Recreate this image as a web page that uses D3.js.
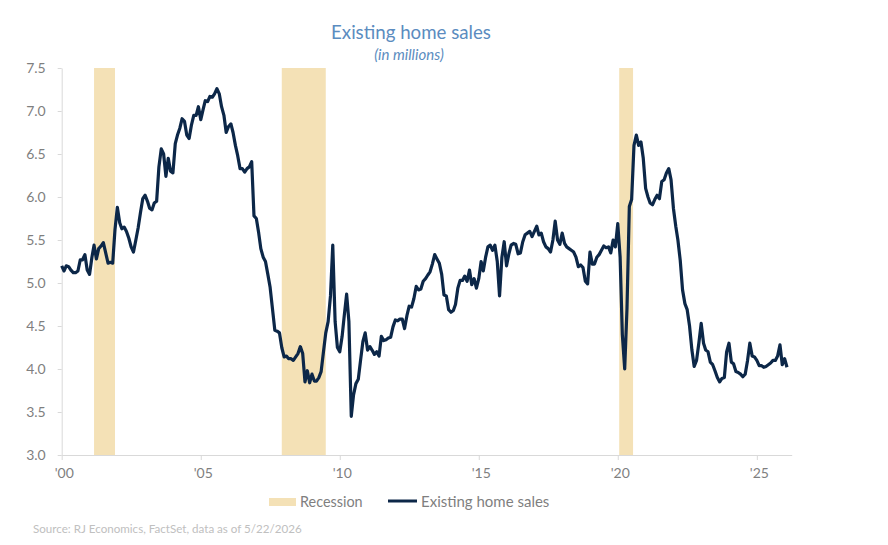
<!DOCTYPE html>
<html>
<head>
<meta charset="utf-8">
<script src="https://cdn.jsdelivr.net/npm/d3@7"></script>
<style>
	body { margin: 0; background: #fff; }
	text { font-family: Lato, "Open Sans", sans-serif; }
</style>
</head>
<body>
<div id="chart"></div>
<script>
// monthly existing home sales, SAAR, millions (Jan 2000 onwards)
var firstMonth = new Date(2000, 0, 1)
var sales = [
	5.2, 5.14, 5.2, 5.19, 5.15, 5.12, 5.12, 5.14, 5.27, 5.27, 5.33, 5.15,
	5.1, 5.3, 5.44, 5.28, 5.4, 5.43, 5.47, 5.35, 5.23, 5.24, 5.23, 5.62,
	5.88, 5.7, 5.63, 5.65, 5.6, 5.52, 5.42, 5.36, 5.5, 5.64, 5.82, 5.98,
	6.02, 5.95, 5.87, 5.85, 5.93, 5.95, 6.35, 6.56, 6.5, 6.24, 6.45, 6.3,
	6.28, 6.62, 6.72, 6.8, 6.91, 6.88, 6.72, 6.68, 6.84, 6.95, 6.95, 7.05,
	6.9, 7.02, 7.12, 7.11, 7.17, 7.16, 7.2, 7.26, 7.2, 7.05, 6.95, 6.75,
	6.82, 6.85, 6.75, 6.6, 6.48, 6.33, 6.33, 6.29, 6.33, 6.35, 6.41, 5.78,
	5.75, 5.58, 5.4, 5.3, 5.25, 5.1, 4.95, 4.7, 4.45, 4.44, 4.42, 4.25,
	4.14, 4.15, 4.12, 4.12, 4.1, 4.14, 4.18, 4.26, 4.18, 3.85, 3.98, 3.84,
	3.94, 3.86, 3.86, 3.9, 3.97, 4.2, 4.42, 4.55, 4.85, 5.44, 4.55, 4.25,
	4.2, 4.38, 4.62, 4.87, 4.55, 3.45, 3.7, 3.83, 3.88, 4.1, 4.32, 4.42,
	4.22, 4.26, 4.22, 4.17, 4.2, 4.15, 4.38, 4.33, 4.34, 4.36, 4.37, 4.49,
	4.57, 4.56, 4.58, 4.58, 4.47, 4.62, 4.73, 4.72, 4.82, 4.96, 4.92, 4.93,
	5.02, 5.05, 5.09, 5.13, 5.22, 5.33, 5.28, 5.23, 5.1, 4.86, 4.85, 4.69,
	4.66, 4.68, 4.75, 4.94, 5.03, 5.03, 5.08, 5.02, 5.15, 4.98, 5.05, 4.94,
	5.05, 5.25, 5.14, 5.3, 5.42, 5.44, 5.38, 5.44, 5.25, 4.85, 5.3, 5.48,
	5.2, 5.34, 5.44, 5.46, 5.45, 5.34, 5.35, 5.48, 5.56, 5.58, 5.6, 5.54,
	5.6, 5.66, 5.56, 5.58, 5.48, 5.42, 5.4, 5.36, 5.5, 5.72, 5.5, 5.45,
	5.58, 5.46, 5.42, 5.4, 5.38, 5.36, 5.3, 5.19, 5.21, 5.18, 5.02, 4.99,
	5.36, 5.22, 5.22, 5.3, 5.33, 5.38, 5.43, 5.41, 5.42, 5.35, 5.5, 5.42,
	5.69, 5.3, 4.4, 4.0, 4.7, 5.89, 5.97, 6.6, 6.72, 6.6, 6.64, 6.45,
	6.1, 6.0, 5.93, 5.91, 5.97, 6.02, 5.98, 6.18, 6.2, 6.28, 6.33, 6.2,
	5.87, 5.66, 5.5, 5.26, 4.92, 4.76, 4.69, 4.5, 4.22, 4.03, 4.1, 4.3,
	4.53, 4.3, 4.22, 4.2, 4.08, 4.05, 3.98, 3.9, 3.85, 3.89, 3.9, 4.2,
	4.3, 4.08, 4.06, 3.97, 3.96, 3.94, 3.91, 3.94, 4.1, 4.3, 4.15, 4.14,
	4.1, 4.04, 4.04, 4.02, 4.03, 4.05, 4.07, 4.1, 4.1, 4.15, 4.28, 4.05,
	4.12, 4.02
]
var recessionStart = ['2001-03-01', '2007-12-01', '2020-01-20']
var recessionEnd = ['2001-12-01', '2009-07-01', '2020-07-20']
var tickYears = [2000, 2005, 2010, 2015, 2020, 2025]
var tickLabels = ["'00", "'05", "'10", "'15", "'20", "'25"]
var yTicks = [3.0, 3.5, 4.0, 4.5, 5.0, 5.5, 6.0, 6.5, 7.0, 7.5]

var W = 888, H = 545
var plotLeft = 61.7, plotRight = 791.7, plotTop = 68, plotBottom = 455
var lineColor = '#0c2748'
var bandColor = '#f4e1b6'
var grey = '#7f7f7f'

var svg = d3.select('#chart').append('svg')
	.attr('width', W)
	.attr('height', H)

var parse = d3.timeParse('%Y-%m-%d')
var x = d3.scaleTime()
	.domain([new Date(2000, 0, 1), new Date(2026, 3, 4)])
	.range([plotLeft, plotRight])
var y = d3.scaleLinear()
	.domain([3, 7.5])
	.range([plotBottom, plotTop])

var data = sales.map((v, i) => ({date: d3.timeMonth.offset(firstMonth, i), value: v}))

// recession shading
svg.append('g').selectAll('rect')
	.data(recessionStart)
	.join('rect')
	.attr('x', (d, i) => x(parse(d)))
	.attr('width', (d, i) => x(parse(recessionEnd[i])) - x(parse(d)))
	.attr('y', y(7.5))
	.attr('height', y(3) - y(7.5))
	.attr('fill', bandColor)

// axes
var xAxis = d3.axisBottom(x)
	.tickValues(tickYears.map(t => new Date(t, 0, 1)))
	.tickFormat((d, i) => tickLabels[i])
	.tickSize(5)
	.tickSizeOuter(0)
var gx = svg.append('g')
	.attr('transform', 'translate(0,' + plotBottom + ')')
	.call(xAxis)
gx.select('.domain').attr('stroke', '#d9d9d9')
gx.selectAll('.tick line').attr('stroke', '#d9d9d9')
gx.selectAll('.tick text')
	.attr('fill', grey)
	.attr('font-size', '14px')
	.attr('dy', '1.05em')
	.attr('dx', '2px')

var yAxis = d3.axisLeft(y)
	.tickValues(yTicks)
	.tickFormat(d3.format('.1f'))
	.tickSize(4)
	.tickPadding(12)
	.tickSizeOuter(0)
var gy = svg.append('g')
	.attr('transform', 'translate(' + plotLeft + ',0)')
	.call(yAxis)
gy.select('.domain').attr('stroke', '#d9d9d9')
gy.selectAll('.tick line').attr('stroke', '#d9d9d9')
gy.selectAll('.tick text')
	.attr('fill', grey)
	.attr('font-size', '14px')

// the series
var line = d3.line()
	.x(d => x(d.date))
	.y(d => y(d.value))
svg.append('path')
	.datum(data)
	.attr('d', line)
	.attr('fill', 'none')
	.attr('stroke', lineColor)
	.attr('stroke-width', 3.2)
	.attr('stroke-linejoin', 'round')

// titles
svg.append('text')
	.attr('x', 411).attr('y', 39)
	.attr('text-anchor', 'middle')
	.attr('fill', '#5b8cc0')
	.attr('font-size', '18.7px')
	.text('Existing home sales')
svg.append('text')
	.attr('x', 409).attr('y', 60)
	.attr('text-anchor', 'middle')
	.attr('fill', '#5b8cc0')
	.attr('font-size', '15px')
	.attr('font-style', 'italic')
	.text('(in millions)')

// legend
var legend = svg.append('g')
legend.append('rect')
	.attr('x', 269).attr('y', 498)
	.attr('width', 27).attr('height', 8)
	.attr('fill', bandColor)
legend.append('text')
	.attr('x', 300).attr('y', 507)
	.attr('fill', grey)
	.attr('font-size', '14.4px')
	.text('Recession')
legend.append('line')
	.attr('x1', 388).attr('x2', 417)
	.attr('y1', 501).attr('y2', 501)
	.attr('stroke', lineColor)
	.attr('stroke-width', 3)
legend.append('text')
	.attr('x', 421).attr('y', 507)
	.attr('fill', grey)
	.attr('font-size', '15px')
	.text('Existing home sales')

svg.append('text')
	.attr('x', 33).attr('y', 533)
	.attr('fill', '#c0c0c0')
	.attr('font-size', '11.6px')
	.text('Source: RJ Economics, FactSet, data as of 5/22/2026')
</script>
</body>
</html>
